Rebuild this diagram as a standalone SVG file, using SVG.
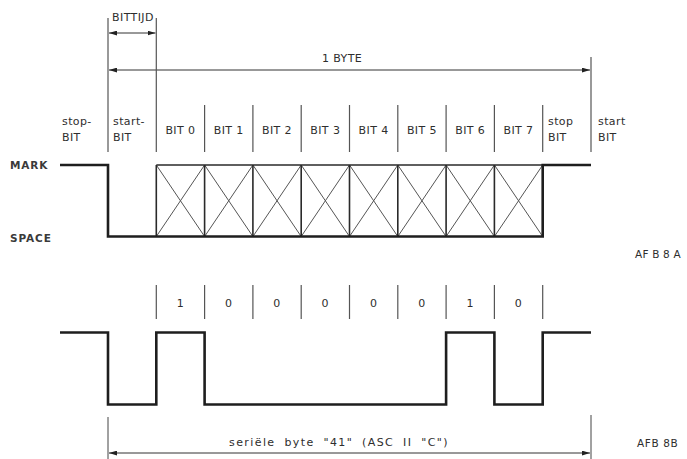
<svg xmlns="http://www.w3.org/2000/svg" width="687" height="459" viewBox="0 0 687 459">
<defs>
<marker id="ah" viewBox="0 0 10 6" refX="10" refY="3" markerWidth="8" markerHeight="5" orient="auto-start-reverse" markerUnits="userSpaceOnUse">
<path d="M0,0 L10,3 L0,6 Z" fill="#222"/>
</marker>
<style>
text{font-family:"DejaVu Sans","Liberation Sans",sans-serif;fill:#2e2e2e;font-size:11px;letter-spacing:0.4px}
.c{text-anchor:middle}
.thin{stroke:#444;stroke-width:1;fill:none}
.grid{stroke:#555;stroke-width:1.2;fill:none}
.wave{stroke:#1e1e1e;stroke-width:2.6;fill:none;stroke-linejoin:miter}
.box{stroke:#2a2a2a;stroke-width:1.6;fill:none}
.x{stroke:#555;stroke-width:1;fill:none}
.dim{stroke:#333;stroke-width:1;fill:none;marker-start:url(#ah);marker-end:url(#ah)}
.lbl{font-weight:bold;font-size:10.5px;fill:#3a3a3a;letter-spacing:0.9px}
</style>
</defs>
<rect width="687" height="459" fill="#fff"/>

<g id="dimensions">
<text x="133" y="21" class="c">BITTIJD</text>
<line class="dim" x1="109" y1="33" x2="155.5" y2="33"/>
<text x="342" y="62" class="c">1 BYTE</text>
<line class="dim" x1="109" y1="70" x2="590" y2="70"/>
<line class="thin" x1="108" y1="417" x2="108" y2="459"/>
<line class="thin" x1="591" y1="415" x2="591" y2="459"/>
<line class="dim" x1="109" y1="453" x2="590" y2="453"/>
<text x="339" y="446" class="c" style="letter-spacing:1.4px;word-spacing:4px">seriële byte "41" (ASC II "C")</text>
</g>

<g id="bit-labels">
<line class="grid" x1="108" y1="18" x2="108" y2="152"/>
<line class="grid" x1="156.3" y1="18" x2="156.3" y2="152"/>
<line class="grid" x1="204.6" y1="105" x2="204.6" y2="152"/>
<line class="grid" x1="252.9" y1="105" x2="252.9" y2="152"/>
<line class="grid" x1="301.2" y1="105" x2="301.2" y2="152"/>
<line class="grid" x1="349.5" y1="105" x2="349.5" y2="152"/>
<line class="grid" x1="397.8" y1="105" x2="397.8" y2="152"/>
<line class="grid" x1="446.1" y1="105" x2="446.1" y2="152"/>
<line class="grid" x1="494.4" y1="105" x2="494.4" y2="152"/>
<line class="grid" x1="542.7" y1="105" x2="542.7" y2="152"/>
<line class="grid" x1="591" y1="57" x2="591" y2="152"/>
<text x="62" y="125">stop-</text>
<text x="62" y="141">BIT</text>
<text x="113" y="125">start-</text>
<text x="113" y="141">BIT</text>
<text x="180.4" y="134" class="c">BIT 0</text>
<text x="228.7" y="134" class="c">BIT 1</text>
<text x="277" y="134" class="c">BIT 2</text>
<text x="325.3" y="134" class="c">BIT 3</text>
<text x="373.6" y="134" class="c">BIT 4</text>
<text x="421.9" y="134" class="c">BIT 5</text>
<text x="470.2" y="134" class="c">BIT 6</text>
<text x="518.5" y="134" class="c">BIT 7</text>
<text x="548" y="125">stop</text>
<text x="548" y="141">BIT</text>
<text x="598" y="125">start</text>
<text x="598" y="141">BIT</text>
</g>

<g id="upper-waveform">
<text x="10" y="169" class="lbl">MARK</text>
<text x="10" y="242" class="lbl">SPACE</text>
<g class="x">
<path d="M156.3,165 L204.6,236.5 M204.6,165 L156.3,236.5"/>
<path d="M204.6,165 L252.9,236.5 M252.9,165 L204.6,236.5"/>
<path d="M252.9,165 L301.2,236.5 M301.2,165 L252.9,236.5"/>
<path d="M301.2,165 L349.5,236.5 M349.5,165 L301.2,236.5"/>
<path d="M349.5,165 L397.8,236.5 M397.8,165 L349.5,236.5"/>
<path d="M397.8,165 L446.1,236.5 M446.1,165 L397.8,236.5"/>
<path d="M446.1,165 L494.4,236.5 M494.4,165 L446.1,236.5"/>
<path d="M494.4,165 L542.7,236.5 M542.7,165 L494.4,236.5"/>
</g>
<g class="box">
<path d="M156.3,165 H542.7"/>
<path d="M156.3,165 V236.5 M204.6,165 V236.5 M252.9,165 V236.5 M301.2,165 V236.5 M349.5,165 V236.5 M397.8,165 V236.5 M446.1,165 V236.5 M494.4,165 V236.5"/>
</g>
<path class="wave" d="M60,165 H108 V236.5 H542.7 V165 H591"/>
<text x="635" y="258" style="letter-spacing:0.2px;font-size:10.5px">AF B 8 A</text>
</g>

<g id="lower-waveform">
<line class="grid" x1="156.3" y1="285" x2="156.3" y2="319"/>
<line class="grid" x1="204.6" y1="285" x2="204.6" y2="319"/>
<line class="grid" x1="252.9" y1="285" x2="252.9" y2="319"/>
<line class="grid" x1="301.2" y1="285" x2="301.2" y2="319"/>
<line class="grid" x1="349.5" y1="285" x2="349.5" y2="319"/>
<line class="grid" x1="397.8" y1="285" x2="397.8" y2="319"/>
<line class="grid" x1="446.1" y1="285" x2="446.1" y2="319"/>
<line class="grid" x1="494.4" y1="285" x2="494.4" y2="319"/>
<line class="grid" x1="542.7" y1="285" x2="542.7" y2="319"/>
<text x="180.4" y="307" class="c">1</text>
<text x="228.7" y="307" class="c">0</text>
<text x="277" y="307" class="c">0</text>
<text x="325.3" y="307" class="c">0</text>
<text x="373.6" y="307" class="c">0</text>
<text x="421.9" y="307" class="c">0</text>
<text x="470.2" y="307" class="c">1</text>
<text x="518.5" y="307" class="c">0</text>
<path class="wave" d="M60,332.5 H108 V404.5 H156.3 V332.5 H204.6 V404.5 H446.1 V332.5 H494.4 V404.5 H542.7 V332.5 H591"/>
<text x="637" y="447" style="letter-spacing:0.6px;font-size:10.5px">AFB 8B</text>
</g>
</svg>
